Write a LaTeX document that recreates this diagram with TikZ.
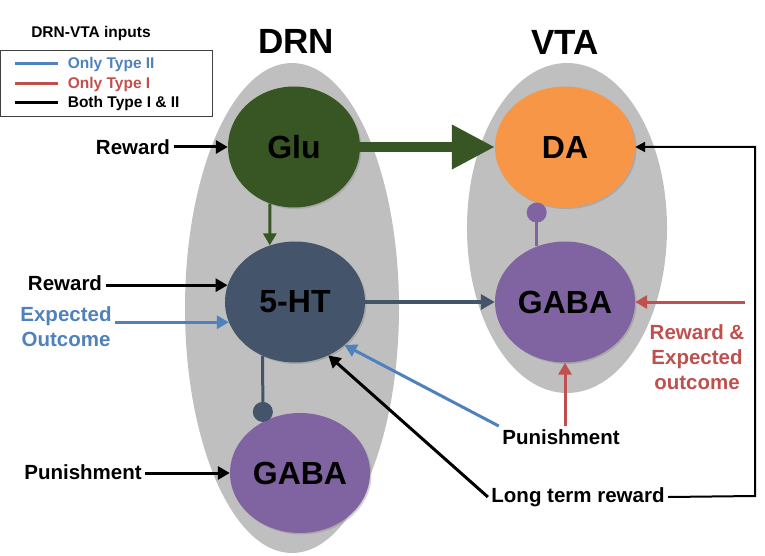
\documentclass[tikz,border=0pt]{standalone}
\usepackage{fontspec}
\setmainfont{Liberation Sans}
\usepackage{tikz}
\usetikzlibrary{arrows.meta,shadows,shapes.geometric,positioning}
\definecolor{gluGreen}{HTML}{375623}
\definecolor{daOrange}{HTML}{F79646}
\definecolor{htSlate}{HTML}{44546A}
\definecolor{gabaPurple}{HTML}{8064A2}
\definecolor{regionGray}{HTML}{BFBFBF}
\definecolor{typeTwo}{HTML}{4F81BD}
\definecolor{typeOne}{HTML}{C0504D}
\tikzset{
    cell/.style={ellipse,inner sep=0pt,minimum width=140pt,minimum height=121pt,
        font=\fontsize{32}{36}\selectfont\bfseries,
        drop shadow={shadow xshift=1.5pt,shadow yshift=-1.5pt,opacity=.35}},
    inlab/.style={font=\fontsize{20.5}{25}\selectfont\bfseries,align=center},
    inarrow/.style={line width=3pt,-{Triangle[length=12pt,width=13pt]}},
    pinline/.style={line width=3pt,-{Circle[length=20pt]}}
}
\begin{document}
\begin{tikzpicture}[x=1pt,y=-1pt]
\useasboundingbox (0,0) rectangle (765,556);
% regions
\fill[regionGray] (292,308) ellipse [x radius=107, y radius=245];
\fill[regionGray] (567,228) ellipse [x radius=100, y radius=165];
\node[font=\fontsize{35}{40}\selectfont\bfseries] (drn) at (296,41) {DRN};
\node[font=\fontsize{35}{40}\selectfont\bfseries] (vta) at (565,42) {VTA};
% legend
\node[font=\fontsize{15.5}{18}\selectfont\bfseries] (legtitle) at (91,33) {DRN-VTA inputs};
\draw[black!75,line width=1pt] (0.5,51) rectangle (212,117);
\draw[typeTwo,line width=3pt] (15,64) -- (58,64) node[right=5pt,font=\fontsize{15.5}{18}\selectfont\bfseries]{Only Type II};
\draw[typeOne,line width=3pt] (15,84) -- (58,84) node[right=5pt,font=\fontsize{15.5}{18}\selectfont\bfseries]{Only Type I};
\draw[black,line width=3pt] (15,103) -- (58,103) node[right=5pt,font=\fontsize{15.5}{18}\selectfont\bfseries,text=black]{Both Type I \& II};
% cells
\node[cell,fill=gluGreen,minimum width=132pt] (glu) at (294,147) {Glu};
\node[cell,fill=daOrange] (da) at (565,147) {DA};
\node[cell,fill=htSlate] (ht) at (295,302) {5-HT};
\node[cell,fill=gabaPurple] (vgaba) at (565,302) {GABA};
\node[cell,fill=gabaPurple,minimum height=120pt] (dgaba) at (300,473) {GABA};
% projections
\draw[gluGreen,line width=10pt,-{Triangle[length=43pt,width=42pt]}] (glu.east) -- (da.west);
\draw[gluGreen,inarrow] (glu.247) -- (ht.114);
\draw[htSlate,line width=4pt,-{Triangle[length=14pt,width=15pt]}] (ht.east) -- (vgaba.west);
\draw[htSlate,pinline] (ht.239) -- (dgaba.126);
\draw[gabaPurple,pinline] (vgaba.117) -- (da.243);
% inputs
\node[inlab] (rew1) at (133,147) {Reward};
\node[inlab] (rew2) at (65,283) {Reward};
\node[inlab,text=typeTwo] (expout) at (66,327) {Expected\\Outcome};
\node[inlab] (pun1) at (83,472) {Punishment};
\node[inlab] (pun2) at (561,437) {Punishment};
\node[inlab] (ltr) at (578,497) {Long term reward};
\node[inlab,text=typeOne] (rex) at (697,357) {Reward \&\\Expected\\outcome};
\coordinate (rexin) at (745,302);
\coordinate (fbcorner) at (755,496);
\draw[inarrow] (rew1.east) -- (glu.west);
\draw[inarrow] (rew2.east |- ht.166) -- (ht.166);
\draw[typeTwo,inarrow] (expout.east |- ht.197) -- (ht.197);
\draw[inarrow] (pun1.east |- dgaba.west) -- (dgaba.west);
\draw[typeOne,inarrow] (pun2.north -| vgaba.south) -- (vgaba.south);
\draw[typeTwo,inarrow] (pun2.170) -- (ht.319);
\draw[inarrow] (ltr.west) -- (ht.302);
\draw[typeOne,inarrow] (rexin) -- (vgaba.east);
\draw[line width=2pt,-{Triangle[length=10pt,width=10pt]}] (ltr.east) -- (fbcorner) |- (da.east);
\end{tikzpicture}
\end{document}
